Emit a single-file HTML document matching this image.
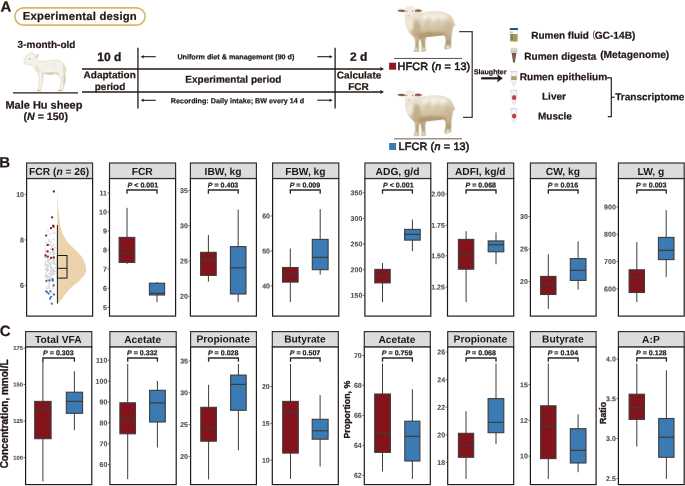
<!DOCTYPE html>
<html><head><meta charset="utf-8"><title>Figure</title>
<style>
html,body{margin:0;padding:0;background:#fff;}
svg{display:block;font-family:"Liberation Sans", Arial, sans-serif;will-change:transform;}
</style></head><body>
<svg width="685" height="486" viewBox="0 0 685 486">
<rect width="685" height="486" fill="#ffffff"/>

<defs>
<filter id="soft" x="-5%" y="-5%" width="110%" height="110%"><feGaussianBlur stdDeviation="2.2"/></filter>
<filter id="soft2" x="-20%" y="-20%" width="140%" height="140%"><feGaussianBlur stdDeviation="7"/></filter>
<filter id="softl" x="-5%" y="-5%" width="110%" height="110%"><feGaussianBlur stdDeviation="2.6"/></filter>
<filter id="softl2" x="-30%" y="-30%" width="160%" height="160%"><feGaussianBlur stdDeviation="8"/></filter>
<linearGradient id="wool" x1="0" y1="0" x2="0.25" y2="1">
 <stop offset="0" stop-color="#f4efe4"/><stop offset="0.38" stop-color="#e5dbc6"/><stop offset="0.7" stop-color="#cbb997"/><stop offset="1" stop-color="#ad9770"/>
</linearGradient>
<linearGradient id="leg" x1="0" y1="0" x2="0" y2="1">
 <stop offset="0" stop-color="#d2c2a2"/><stop offset="1" stop-color="#efe8da"/>
</linearGradient>
<linearGradient id="lambg" x1="0" y1="0" x2="0.2" y2="1">
 <stop offset="0" stop-color="#f7f4ee"/><stop offset="0.6" stop-color="#eee8dc"/><stop offset="1" stop-color="#ddd2bc"/>
</linearGradient>
<clipPath id="sheepclip"><path d="M118 96 C112 72 130 50 160 48 C192 48 206 66 208 92 C230 100 260 100 300 94 C350 84 420 88 465 108 C500 124 516 160 520 185 L528 200 L522 212 L512 214 C508 240 500 262 498 290 C496 330 494 360 494 388 L448 402 L440 388 C452 360 456 330 450 300 L436 282 C400 292 340 294 292 300 C282 340 284 380 290 414 L254 418 C260 380 256 340 246 312 L236 322 C230 360 234 390 236 408 L228 421 L190 419 C206 396 210 350 196 304 C160 280 130 230 124 180 C120 150 122 120 118 96 Z"/></clipPath>
<g id="sheepdef">
 <g filter="url(#soft)">
  <path fill="url(#wool)" d="M118 96 C112 72 130 50 160 48 C192 48 206 66 208 92 C230 100 260 100 300 94 C350 84 420 88 465 108 C500 124 516 160 520 185 L528 200 L522 212 L512 214 C508 240 500 262 498 290 C496 330 494 360 494 388 L448 402 L440 388 C452 360 456 330 450 300 L436 282 C400 292 340 294 292 300 C282 340 284 380 290 414 L254 418 C260 380 256 340 246 312 L236 322 C230 360 234 390 236 408 L228 421 L190 419 C206 396 210 350 196 304 C160 280 130 230 124 180 C120 150 122 120 118 96 Z"/>
  <g clip-path="url(#sheepclip)">
   <g filter="url(#soft2)">
    <ellipse cx="330" cy="282" rx="130" ry="26" fill="#ad956c" opacity="0.85"/>
    <ellipse cx="215" cy="235" rx="35" ry="75" fill="#bfa983" opacity="0.8"/>
    <ellipse cx="470" cy="250" rx="30" ry="70" fill="#c8b592" opacity="0.7"/>
    <ellipse cx="360" cy="135" rx="105" ry="28" fill="#f6f1e6" opacity="0.85"/><ellipse cx="300" cy="200" rx="20" ry="70" fill="#cdbd9c" opacity="0.55" transform="rotate(18 300 200)"/><ellipse cx="380" cy="200" rx="18" ry="70" fill="#d2c3a4" opacity="0.5" transform="rotate(14 380 200)"/>
    <ellipse cx="160" cy="200" rx="30" ry="50" fill="#f3ecdd" opacity="0.8"/>
    <ellipse cx="440" cy="330" rx="18" ry="55" fill="#9c845c" opacity="0.65"/>
    <ellipse cx="248" cy="335" rx="14" ry="45" fill="#a38b62" opacity="0.7"/>
    <ellipse cx="470" cy="385" rx="22" ry="18" fill="#f6f1e7" opacity="0.9"/>
    <ellipse cx="212" cy="405" rx="20" ry="16" fill="#f4eee2" opacity="0.9"/>
    <ellipse cx="272" cy="400" rx="18" ry="16" fill="#f4eee2" opacity="0.9"/>
   </g>
  </g>
  <!-- head -->
  <path d="M124 72 C128 54 145 47 162 48 C185 50 200 60 202 82 C200 104 188 124 172 136 C160 144 146 140 140 128 C130 112 122 92 124 70 Z" fill="#f3ede0"/>
  <path d="M140 120 C150 134 166 136 176 124 C170 138 150 142 140 120 Z" fill="#c8b294" opacity="0.8"/>
  <!-- ears -->
  <path d="M120 82 C100 74 76 75 58 86 C72 98 100 100 122 94 Z" fill="#7c3f2e"/>
  <path d="M204 80 C222 72 244 75 260 88 C244 100 220 98 202 92 Z" fill="#7c3f2e"/>
  <path d="M112 88 C98 82 82 82 70 88 C84 94 100 94 112 92 Z" fill="#c9876e" opacity="0.7"/>
  <path d="M210 86 C224 80 238 82 250 89 C238 94 222 94 210 91 Z" fill="#c9876e" opacity="0.7"/>
  <ellipse cx="134" cy="92" rx="5" ry="4" fill="#3a2a20"/>
  <ellipse cx="184" cy="90" rx="5" ry="4" fill="#3a2a20"/>
  <ellipse cx="152" cy="124" rx="7" ry="4" fill="#c49a90" opacity="0.9"/>
 </g>
</g>
</defs>

<text transform="rotate(0.04 0.4 11.7)" x="0.4" y="11.7" font-size="15" font-weight="bold" text-anchor="start" fill="#231815"  stroke="#231815" stroke-width="0.22">A</text>
<rect x="14.9" y="7.9" width="130.2" height="17.2" rx="8.6" ry="8.6" fill="#fffefb" stroke="#ddb370" stroke-width="1.6"/>
<text transform="rotate(0.04 79.9 19.9)" x="79.9" y="19.9" font-size="11.3" font-weight="bold" text-anchor="middle" fill="#231815" letter-spacing="0.19" stroke="#231815" stroke-width="0.22">Experimental design</text>
<text transform="rotate(0.04 46.5 47.9)" x="46.5" y="47.9" font-size="10" font-weight="bold" text-anchor="middle" fill="#231815"  stroke="#231815" stroke-width="0.22">3-month-old</text>
<g transform="translate(18,48) scale(0.09877)"><clipPath id="lambclip"><path d="M60 140 C60 120 72 96 92 72 C104 60 120 52 132 50 C134 44 137 40 141 38 C148 42 154 52 158 68 C172 66 196 62 212 64 C208 84 198 98 184 108 C188 118 200 128 216 134 C250 138 290 132 330 126 C370 120 410 122 436 138 C462 156 478 184 485 212 C488 230 486 242 480 250 C476 258 472 262 472 268 C484 296 484 320 478 342 C470 368 460 392 456 416 L452 433 L408 433 C408 424 416 416 424 398 C436 372 442 346 436 316 C430 300 414 284 396 266 L380 258 C350 268 310 270 282 262 L256 250 C254 290 250 330 244 362 C240 390 236 412 232 433 L194 433 C194 424 202 414 208 400 C214 370 216 330 214 292 L206 262 C188 240 170 212 158 192 C150 178 138 172 120 170 C100 170 80 168 70 160 C62 154 60 148 60 140 Z"/></clipPath><g filter="url(#softl)"><path d="M60 140 C60 120 72 96 92 72 C104 60 120 52 132 50 C134 44 137 40 141 38 C148 42 154 52 158 68 C172 66 196 62 212 64 C208 84 198 98 184 108 C188 118 200 128 216 134 C250 138 290 132 330 126 C370 120 410 122 436 138 C462 156 478 184 485 212 C488 230 486 242 480 250 C476 258 472 262 472 268 C484 296 484 320 478 342 C470 368 460 392 456 416 L452 433 L408 433 C408 424 416 416 424 398 C436 372 442 346 436 316 C430 300 414 284 396 266 L380 258 C350 268 310 270 282 262 L256 250 C254 290 250 330 244 362 C240 390 236 412 232 433 L194 433 C194 424 202 414 208 400 C214 370 216 330 214 292 L206 262 C188 240 170 212 158 192 C150 178 138 172 120 170 C100 170 80 168 70 160 C62 154 60 148 60 140 Z" fill="#f5f2eb" stroke="#d3c8ae" stroke-width="5"/><g clip-path="url(#lambclip)"><g filter="url(#softl2)"><ellipse cx="330" cy="262" rx="90" ry="16" fill="#cdbf9f" opacity="0.85"/><ellipse cx="252" cy="330" rx="9" ry="80" fill="#d6cab0" opacity="0.7"/><ellipse cx="470" cy="330" rx="12" ry="90" fill="#cfc2a4" opacity="0.8"/><ellipse cx="200" cy="210" rx="20" ry="42" fill="#e0d7c3" opacity="0.55" transform="rotate(-30 200 210)"/><ellipse cx="470" cy="210" rx="18" ry="50" fill="#ddd3bd" opacity="0.8"/><ellipse cx="360" cy="185" rx="30" ry="45" fill="#e6decd" opacity="0.2" transform="rotate(20 360 185)"/><ellipse cx="290" cy="190" rx="20" ry="40" fill="#e9e2d3" opacity="0.2" transform="rotate(15 290 190)"/></g></g></g><g filter="url(#softl)"><path d="M170 100 C180 86 194 74 208 68 C204 82 194 94 180 104 Z" fill="#e9b7bb"/><path d="M108 112 C114 108 124 108 130 114 C124 118 114 118 108 112 Z" fill="#7a7656"/><path d="M194 424 H228 V433 H194 Z M408 424 H446 V433 H408 Z" fill="#b9a67c"/></g></g>
<line x1="13" y1="92.8" x2="78" y2="92.8" stroke="#231815" stroke-width="1.3"/>
<text transform="rotate(0.04 43.9 108.7)" x="43.9" y="108.7" font-size="11" font-weight="bold" text-anchor="middle" fill="#231815"  stroke="#231815" stroke-width="0.22">Male Hu sheep</text>
<text transform="rotate(0.04 45.8 120.1)" x="45.8" y="120.1" font-size="10.6" font-weight="bold" text-anchor="middle" fill="#231815"  stroke="#231815" stroke-width="0.22">(<tspan font-style="italic">N</tspan> = 150)</text>
<text transform="rotate(0.04 109.3 61.1)" x="109.3" y="61.1" font-size="12" font-weight="bold" text-anchor="middle" fill="#231815" stroke="#231815" stroke-width="0.3">10 d</text>
<text transform="rotate(0.04 109.7 78.3)" x="109.7" y="78.3" font-size="10" font-weight="bold" text-anchor="middle" fill="#231815"  stroke="#231815" stroke-width="0.22">Adaptation</text>
<text transform="rotate(0.04 110 90)" x="110" y="90" font-size="10" font-weight="bold" text-anchor="middle" fill="#231815"  stroke="#231815" stroke-width="0.22">period</text>
<line x1="82" y1="68.95" x2="381" y2="68.95" stroke="#231815" stroke-width="1.35"/>
<path d="M384 68.95 L380 66.85000000000001 L380.9 68.95 L380 71.05 Z" fill="#231815"/>
<line x1="82" y1="91.95" x2="381" y2="91.95" stroke="#231815" stroke-width="1.35"/>
<path d="M384 91.95 L380 89.85000000000001 L380.9 91.95 L380 94.05 Z" fill="#231815"/>
<line x1="137.95" y1="47.7" x2="137.95" y2="108.5" stroke="#231815" stroke-width="1.3"/>
<line x1="335.1" y1="47.7" x2="335.1" y2="108.5" stroke="#231815" stroke-width="1.3"/>
<line x1="155.8" y1="56.7" x2="142.2" y2="56.7" stroke="#231815" stroke-width="1.1"/>
<path d="M140.7 56.7 L144.1 54.900000000000006 L143.29999999999998 56.7 L144.1 58.5 Z" fill="#231815"/>
<line x1="155.8" y1="100.3" x2="142.2" y2="100.3" stroke="#231815" stroke-width="1.1"/>
<path d="M140.7 100.3 L144.1 98.5 L143.29999999999998 100.3 L144.1 102.1 Z" fill="#231815"/>
<line x1="317.4" y1="56.7" x2="331.1" y2="56.7" stroke="#231815" stroke-width="1.1"/>
<path d="M332.6 56.7 L329.20000000000005 54.900000000000006 L330.0 56.7 L329.20000000000005 58.5 Z" fill="#231815"/>
<line x1="317.4" y1="100.2" x2="331.1" y2="100.2" stroke="#231815" stroke-width="1.1"/>
<path d="M332.6 100.2 L329.20000000000005 98.4 L330.0 100.2 L329.20000000000005 102.0 Z" fill="#231815"/>
<text transform="rotate(0.04 235.9 59.3)" x="235.9" y="59.3" font-size="7.2" font-weight="bold" text-anchor="middle" fill="#231815"  stroke="#231815" stroke-width="0.22">Uniform diet &amp; management (90 d)</text>
<text transform="rotate(0.04 233.4 82.7)" x="233.4" y="82.7" font-size="10" font-weight="bold" text-anchor="middle" fill="#231815"  stroke="#231815" stroke-width="0.22">Experimental period</text>
<text transform="rotate(0.04 237.5 103.3)" x="237.5" y="103.3" font-size="7.2" font-weight="bold" text-anchor="middle" fill="#231815"  stroke="#231815" stroke-width="0.22">Recording: Daily intake; BW every 14 d</text>
<text transform="rotate(0.04 358.6 60.8)" x="358.6" y="60.8" font-size="12" font-weight="bold" text-anchor="middle" fill="#231815" stroke="#231815" stroke-width="0.3">2 d</text>
<text transform="rotate(0.04 359.1 78.4)" x="359.1" y="78.4" font-size="10" font-weight="bold" text-anchor="middle" fill="#231815"  stroke="#231815" stroke-width="0.22">Calculate</text>
<text transform="rotate(0.04 358.5 90.1)" x="358.5" y="90.1" font-size="10" font-weight="bold" text-anchor="middle" fill="#231815"  stroke="#231815" stroke-width="0.22">FCR</text>
<use href="#sheepdef" transform="translate(390,0) scale(0.12346)"/>
<use href="#sheepdef" transform="translate(390,84.2) scale(0.12346)"/>
<line x1="394.2" y1="58.45" x2="462.2" y2="58.45" stroke="#5a4f4f" stroke-width="1"/>
<line x1="394.2" y1="138.8" x2="462.1" y2="138.8" stroke="#9a9292" stroke-width="1.4"/>
<rect x="389.1" y="62.7" width="7" height="7" fill="#8b1a22"/>
<rect x="389.1" y="143" width="7" height="7" fill="#3b7ab5"/>
<text transform="rotate(0.04 397.5 70)" x="397.5" y="70" font-size="10.8" font-weight="normal" text-anchor="start" fill="#231815" stroke="#231815" stroke-width="0.62" letter-spacing="0.18">HFCR (<tspan font-style="italic">n</tspan> = 13)</text>
<text transform="rotate(0.04 398.5 149.9)" x="398.5" y="149.9" font-size="10.8" font-weight="normal" text-anchor="start" fill="#231815" stroke="#231815" stroke-width="0.62" letter-spacing="0.18">LFCR (<tspan font-style="italic">n</tspan> = 13)</text>
<path d="M459.2 31.7 H472.2 V117.3 H463" fill="none" stroke="#463c3a" stroke-width="1.3"/>
<text transform="rotate(0.04 473.7 74.2)" x="473.7" y="74.2" font-size="7.15" font-weight="bold" text-anchor="start" fill="#231815"  stroke="#231815" stroke-width="0.22">Slaughter</text>
<line x1="481.2" y1="78.3" x2="499" y2="78.3" stroke="#231815" stroke-width="2.2"/>
<path d="M502.4 78.3 L497.4 74.8 L498.6 78.3 L497.4 81.8 Z" fill="#231815" stroke="#231815" stroke-width="0.6"/>
<rect x="510.3" y="29.6" width="7.2" height="12" rx="0.8" fill="#ffffff" stroke="#c8c8b8" stroke-width="0.4"/><path d="M510.3 34 H517.5 V40.8 Q517.5 41.6 516.7 41.6 H511.1 Q510.3 41.6 510.3 40.8 Z" fill="#a39a5a"/><rect x="509.8" y="28.1" width="8.2" height="2" rx="0.4" fill="#2c4f92"/><line x1="510.6" y1="32.2" x2="512.9" y2="32.2" stroke="#2a2618" stroke-width="0.5"/><line x1="510.6" y1="34.8" x2="512.9" y2="34.8" stroke="#2a2618" stroke-width="0.5"/><line x1="510.6" y1="37" x2="512.9" y2="37" stroke="#2a2618" stroke-width="0.5"/><line x1="510.6" y1="39" x2="512.9" y2="39" stroke="#2a2618" stroke-width="0.5"/><rect x="511" y="47.9" width="6" height="5" rx="0.8" fill="#d9d9d9" stroke="#bdbdbd" stroke-width="0.4"/><rect x="510.6" y="50.8" width="6.8" height="1.4" rx="0.5" fill="#c4c4c4"/><path d="M511.6 53 H516.4 L514.9 62.3 Q514 63.4 513.1 62.3 Z" fill="#7a5447"/><path d="M513.6 54 H514.6 L514.2 62 Z" fill="#a07868" opacity="0.7"/><path d="M511 71.8 H516.8 V78.5 L514.7 85.3 Q513.9 86.2 513.1 85.3 L511 78.5 Z" fill="#f2f5f8" stroke="#c4ccd6" stroke-width="0.5"/><rect x="510.2" y="71" width="7.2" height="1.1" rx="0.4" fill="#cfd6de"/><rect x="511.2" y="76.2" width="5.4" height="3.8" fill="#b39b6c"/><path d="M511 90.5 H516.8 V97.2 L514.7 104.0 Q513.9 104.9 513.1 104.0 L511 97.2 Z" fill="#f2f5f8" stroke="#c4ccd6" stroke-width="0.5"/><rect x="510.2" y="89.7" width="7.2" height="1.1" rx="0.4" fill="#cfd6de"/><ellipse cx="514.1" cy="97.60000000000001" rx="2.1" ry="2.5" fill="#c9363c"/><path d="M511 108.8 H516.8 V115.5 L514.7 122.3 Q513.9 123.2 513.1 122.3 L511 115.5 Z" fill="#f2f5f8" stroke="#c4ccd6" stroke-width="0.5"/><rect x="510.2" y="108" width="7.2" height="1.1" rx="0.4" fill="#cfd6de"/><ellipse cx="514.1" cy="115.9" rx="2.1" ry="2.5" fill="#c9363c"/>
<text transform="rotate(0.04 531.2 38.7)" x="531.2" y="38.7" font-size="10" font-weight="bold" text-anchor="start" fill="#231815"  stroke="#231815" stroke-width="0.22">Rumen fluid<tspan font-weight="normal" stroke="none" fill="#4a4040" font-family="'Liberation Sans', 'Noto Sans CJK SC', sans-serif" dx="-2.9">（</tspan><tspan dx="-1.4" font-size="10.2">GC-14B)</tspan></text>
<text transform="rotate(0.04 524.3 59.8)" x="524.3" y="59.8" font-size="10.05" font-weight="bold" text-anchor="start" fill="#231815"  stroke="#231815" stroke-width="0.22">Rumen digesta</text>
<text transform="rotate(0.04 600.2 58.0)" x="600.2" y="58.0" font-size="10.2" font-weight="bold" text-anchor="start" fill="#231815"  stroke="#231815" stroke-width="0.22">(Metagenome)</text>
<text transform="rotate(0.04 519.7 80.2)" x="519.7" y="80.2" font-size="10.1" font-weight="bold" text-anchor="start" fill="#231815"  stroke="#231815" stroke-width="0.22">Rumen epithelium</text>
<text transform="rotate(0.04 542 99.7)" x="542" y="99.7" font-size="10" font-weight="bold" text-anchor="start" fill="#231815"  stroke="#231815" stroke-width="0.22">Liver</text>
<text transform="rotate(0.04 538 119.5)" x="538" y="119.5" font-size="10" font-weight="bold" text-anchor="start" fill="#231815"  stroke="#231815" stroke-width="0.22">Muscle</text>
<path d="M606.8 77.9 H611.3 V116.6 H607.8" fill="none" stroke="#231815" stroke-width="1.15"/>
<line x1="611.3" y1="97.2" x2="614.6" y2="97.2" stroke="#231815" stroke-width="1.15"/>
<text transform="rotate(0.04 615.2 100.3)" x="615.2" y="100.3" font-size="10.05" font-weight="bold" text-anchor="start" fill="#231815"  stroke="#231815" stroke-width="0.22">Transcriptome</text>
<text transform="rotate(0.04 -0.7 167.4)" x="-0.7" y="167.4" font-size="15" font-weight="bold" text-anchor="start" fill="#231815"  stroke="#231815" stroke-width="0.22">B</text>
<rect x="26.6" y="178.5" width="66.0" height="137.6" fill="#ffffff" stroke="#2b1a16" stroke-width="1.2"/>
<rect x="26.6" y="163.0" width="66.0" height="15.5" fill="#dcdcdc" stroke="#2b2b2b" stroke-width="1.15"/>
<text transform="rotate(0.04 59.099999999999994 174.95)" x="59.099999999999994" y="174.95" font-size="10.25" font-weight="bold" text-anchor="middle" fill="#1a1a1a" >FCR (<tspan font-style="italic">n</tspan> = 26)</text>
<line x1="24.6" y1="194.4" x2="26.6" y2="194.4" stroke="#333" stroke-width="0.7"/>
<text transform="rotate(0.04 24.0 196.9)" x="24.0" y="196.9" font-size="7" font-weight="bold" text-anchor="end" fill="#4f4f4f" stroke="#4f4f4f" stroke-width="0.12">10</text>
<line x1="24.6" y1="239.9" x2="26.6" y2="239.9" stroke="#333" stroke-width="0.7"/>
<text transform="rotate(0.04 24.0 242.4)" x="24.0" y="242.4" font-size="7" font-weight="bold" text-anchor="end" fill="#4f4f4f" stroke="#4f4f4f" stroke-width="0.12">8</text>
<line x1="24.6" y1="285.3" x2="26.6" y2="285.3" stroke="#333" stroke-width="0.7"/>
<text transform="rotate(0.04 24.0 287.8)" x="24.0" y="287.8" font-size="7" font-weight="bold" text-anchor="end" fill="#4f4f4f" stroke="#4f4f4f" stroke-width="0.12">6</text>
<path d="M57.4 190.5 L57.5 190.5 L57.9 200 L58.3 208 L58.8 214 L59.6 221 L60.9 228.2 L62.8 234 L65.9 239.7 L69.3 244 L72.6 247.2 L76.2 250.5 L79.5 254 L82 257.2 L83.8 260.5 L85.2 264 L86 267.5 L86.2 270 L85.6 272.8 L84.2 275.5 L82 278 L79 281.2 L75.8 283.8 L73.1 285.8 L70 288.8 L67.3 291.8 L65.2 294.2 L63 297.2 L60.9 300 L59 302.3 L57.5 303.6 L57.4 303.6 Z" fill="#ebd3ac"/>
<circle cx="51.7" cy="262.4" r="0.85" fill="#d4d4d4"/>
<circle cx="45.9" cy="273.2" r="0.85" fill="#d4d4d4"/>
<circle cx="45.8" cy="253.0" r="0.85" fill="#d4d4d4"/>
<circle cx="50.3" cy="263.0" r="0.85" fill="#d4d4d4"/>
<circle cx="45.9" cy="280.5" r="0.85" fill="#d4d4d4"/>
<circle cx="46.1" cy="269.5" r="0.85" fill="#d4d4d4"/>
<circle cx="46.4" cy="242.7" r="0.85" fill="#d4d4d4"/>
<circle cx="47.4" cy="278.0" r="0.85" fill="#d4d4d4"/>
<circle cx="51.0" cy="242.3" r="0.85" fill="#d4d4d4"/>
<circle cx="49.2" cy="241.6" r="0.85" fill="#d4d4d4"/>
<circle cx="53.8" cy="270.3" r="0.85" fill="#d4d4d4"/>
<circle cx="48.1" cy="265.4" r="0.85" fill="#d4d4d4"/>
<circle cx="48.3" cy="270.3" r="0.85" fill="#d4d4d4"/>
<circle cx="53.4" cy="271.5" r="0.85" fill="#d4d4d4"/>
<circle cx="51.6" cy="273.8" r="0.85" fill="#d4d4d4"/>
<circle cx="48.9" cy="282.8" r="0.85" fill="#d4d4d4"/>
<circle cx="45.8" cy="261.2" r="0.85" fill="#d4d4d4"/>
<circle cx="47.3" cy="264.5" r="0.85" fill="#d4d4d4"/>
<circle cx="48.3" cy="259.7" r="0.85" fill="#d4d4d4"/>
<circle cx="51.1" cy="252.6" r="0.85" fill="#d4d4d4"/>
<circle cx="53.1" cy="254.7" r="0.85" fill="#d4d4d4"/>
<circle cx="52.2" cy="269.4" r="0.85" fill="#d4d4d4"/>
<circle cx="50.5" cy="266.7" r="0.85" fill="#d4d4d4"/>
<circle cx="54.0" cy="284.3" r="0.85" fill="#d4d4d4"/>
<circle cx="55.0" cy="264.5" r="0.85" fill="#d4d4d4"/>
<circle cx="46.4" cy="254.6" r="0.85" fill="#d4d4d4"/>
<circle cx="46.7" cy="245.5" r="0.85" fill="#d4d4d4"/>
<circle cx="50.1" cy="277.6" r="0.85" fill="#d4d4d4"/>
<circle cx="52.8" cy="286.2" r="0.85" fill="#d4d4d4"/>
<circle cx="50.9" cy="271.1" r="0.85" fill="#d4d4d4"/>
<circle cx="52.2" cy="274.6" r="0.85" fill="#d4d4d4"/>
<circle cx="51.1" cy="257.4" r="0.85" fill="#d4d4d4"/>
<circle cx="53.6" cy="252.5" r="0.85" fill="#d4d4d4"/>
<circle cx="54.6" cy="258.6" r="0.85" fill="#d4d4d4"/>
<circle cx="45.8" cy="245.6" r="0.85" fill="#d4d4d4"/>
<circle cx="52.2" cy="269.4" r="0.85" fill="#d4d4d4"/>
<circle cx="53.4" cy="239.4" r="0.85" fill="#d4d4d4"/>
<circle cx="48.0" cy="230.7" r="0.85" fill="#d4d4d4"/>
<circle cx="45.4" cy="250.3" r="0.85" fill="#d4d4d4"/>
<circle cx="49.8" cy="279.7" r="0.85" fill="#d4d4d4"/>
<circle cx="45.8" cy="269.4" r="0.85" fill="#d4d4d4"/>
<circle cx="52.9" cy="272.1" r="0.85" fill="#d4d4d4"/>
<circle cx="49.1" cy="273.3" r="0.85" fill="#d4d4d4"/>
<circle cx="53.9" cy="273.7" r="0.85" fill="#d4d4d4"/>
<circle cx="50.7" cy="279.4" r="0.85" fill="#d4d4d4"/>
<circle cx="54.0" cy="273.4" r="0.85" fill="#d4d4d4"/>
<circle cx="48.0" cy="277.8" r="0.85" fill="#d4d4d4"/>
<circle cx="49.4" cy="240.6" r="0.85" fill="#d4d4d4"/>
<circle cx="54.8" cy="247.6" r="0.85" fill="#d4d4d4"/>
<circle cx="46.7" cy="288.5" r="0.85" fill="#d4d4d4"/>
<circle cx="47.5" cy="270.5" r="0.85" fill="#d4d4d4"/>
<circle cx="50.0" cy="275.1" r="0.85" fill="#d4d4d4"/>
<circle cx="45.2" cy="256.7" r="0.85" fill="#d4d4d4"/>
<circle cx="49.4" cy="260.2" r="0.85" fill="#d4d4d4"/>
<circle cx="54.7" cy="253.7" r="0.85" fill="#d4d4d4"/>
<circle cx="52.1" cy="279.3" r="0.85" fill="#d4d4d4"/>
<circle cx="52.0" cy="246.7" r="0.85" fill="#d4d4d4"/>
<circle cx="45.7" cy="264.1" r="0.85" fill="#d4d4d4"/>
<circle cx="53.9" cy="285.7" r="0.85" fill="#d4d4d4"/>
<circle cx="53.2" cy="251.6" r="0.85" fill="#d4d4d4"/>
<circle cx="46.2" cy="255.0" r="0.85" fill="#d4d4d4"/>
<circle cx="51.5" cy="274.8" r="0.85" fill="#d4d4d4"/>
<circle cx="47.3" cy="270.8" r="0.85" fill="#d4d4d4"/>
<circle cx="46.8" cy="268.0" r="0.85" fill="#d4d4d4"/>
<circle cx="45.2" cy="263.5" r="0.85" fill="#d4d4d4"/>
<circle cx="46.7" cy="269.9" r="0.85" fill="#d4d4d4"/>
<circle cx="45.5" cy="276.7" r="0.85" fill="#d4d4d4"/>
<circle cx="53.9" cy="273.9" r="0.85" fill="#d4d4d4"/>
<circle cx="47.7" cy="260.0" r="0.85" fill="#d4d4d4"/>
<circle cx="48.7" cy="260.8" r="0.85" fill="#d4d4d4"/>
<circle cx="53.7" cy="261.3" r="0.85" fill="#d4d4d4"/>
<circle cx="55.1" cy="271.4" r="0.85" fill="#d4d4d4"/>
<circle cx="46.1" cy="250.3" r="0.85" fill="#d4d4d4"/>
<circle cx="46.2" cy="269.4" r="0.85" fill="#d4d4d4"/>
<circle cx="53.5" cy="260.0" r="0.85" fill="#d4d4d4"/>
<circle cx="46.8" cy="275.2" r="0.85" fill="#d4d4d4"/>
<circle cx="50.5" cy="271.0" r="0.85" fill="#d4d4d4"/>
<circle cx="45.5" cy="276.6" r="0.85" fill="#d4d4d4"/>
<circle cx="50.5" cy="280.0" r="0.85" fill="#d4d4d4"/>
<circle cx="52.2" cy="293.7" r="0.85" fill="#d4d4d4"/>
<circle cx="47.8" cy="262.2" r="0.85" fill="#d4d4d4"/>
<circle cx="52.9" cy="260.3" r="0.85" fill="#d4d4d4"/>
<circle cx="50.5" cy="272.3" r="0.85" fill="#d4d4d4"/>
<circle cx="47.4" cy="268.3" r="0.85" fill="#d4d4d4"/>
<circle cx="53.3" cy="253.7" r="0.85" fill="#d4d4d4"/>
<circle cx="53.3" cy="293.3" r="0.85" fill="#d4d4d4"/>
<circle cx="53.4" cy="263.4" r="0.85" fill="#d4d4d4"/>
<circle cx="50.4" cy="265.4" r="0.85" fill="#d4d4d4"/>
<circle cx="48.8" cy="256.0" r="0.85" fill="#d4d4d4"/>
<circle cx="48.0" cy="269.3" r="0.85" fill="#d4d4d4"/>
<circle cx="47.8" cy="266.6" r="0.85" fill="#d4d4d4"/>
<circle cx="49.7" cy="253.6" r="0.85" fill="#d4d4d4"/>
<circle cx="54.6" cy="233.2" r="0.85" fill="#d4d4d4"/>
<circle cx="48.8" cy="263.4" r="0.85" fill="#d4d4d4"/>
<circle cx="47.2" cy="267.9" r="0.85" fill="#d4d4d4"/>
<circle cx="47.2" cy="275.9" r="0.85" fill="#d4d4d4"/>
<circle cx="53.6" cy="244.6" r="0.85" fill="#d4d4d4"/>
<circle cx="50.0" cy="244.9" r="0.85" fill="#d4d4d4"/>
<circle cx="46.0" cy="251.6" r="0.85" fill="#d4d4d4"/>
<circle cx="51.8" cy="245.4" r="0.85" fill="#d4d4d4"/>
<circle cx="52.7" cy="286.6" r="0.85" fill="#d4d4d4"/>
<circle cx="50.0" cy="252.9" r="0.85" fill="#d4d4d4"/>
<circle cx="48.5" cy="276.7" r="0.85" fill="#d4d4d4"/>
<circle cx="53.2" cy="288.3" r="0.85" fill="#d4d4d4"/>
<circle cx="49.2" cy="279.8" r="0.85" fill="#d4d4d4"/>
<circle cx="54.7" cy="263.5" r="0.85" fill="#d4d4d4"/>
<circle cx="46.5" cy="264.7" r="0.85" fill="#d4d4d4"/>
<circle cx="46.7" cy="257.6" r="0.85" fill="#d4d4d4"/>
<circle cx="46.7" cy="287.0" r="0.85" fill="#d4d4d4"/>
<circle cx="53.5" cy="251.7" r="0.85" fill="#d4d4d4"/>
<circle cx="48.7" cy="286.3" r="0.85" fill="#d4d4d4"/>
<circle cx="50.7" cy="263.5" r="0.85" fill="#d4d4d4"/>
<circle cx="54.9" cy="267.6" r="0.85" fill="#d4d4d4"/>
<circle cx="51.7" cy="267.7" r="0.85" fill="#d4d4d4"/>
<circle cx="49.5" cy="233.8" r="0.85" fill="#d4d4d4"/>
<circle cx="53.9" cy="260.6" r="0.85" fill="#d4d4d4"/>
<circle cx="47.7" cy="270.4" r="0.85" fill="#d4d4d4"/>
<circle cx="48.1" cy="257.4" r="0.85" fill="#d4d4d4"/>
<circle cx="47.8" cy="267.1" r="0.85" fill="#d4d4d4"/>
<circle cx="49.4" cy="284.6" r="0.85" fill="#d4d4d4"/>
<circle cx="48.7" cy="286.9" r="0.85" fill="#d4d4d4"/>
<circle cx="49.8" cy="288.5" r="0.85" fill="#d4d4d4"/>
<circle cx="49.4" cy="239.7" r="0.85" fill="#d4d4d4"/>
<circle cx="54.4" cy="250.8" r="0.85" fill="#d4d4d4"/>
<circle cx="50.4" cy="248.8" r="0.85" fill="#d4d4d4"/>
<circle cx="45.4" cy="265.8" r="0.85" fill="#d4d4d4"/>
<circle cx="45.2" cy="257.7" r="0.85" fill="#d4d4d4"/>
<circle cx="53.2" cy="269.3" r="0.85" fill="#d4d4d4"/>
<circle cx="52.5" cy="273.4" r="0.85" fill="#d4d4d4"/>
<circle cx="50.8" cy="280.0" r="0.85" fill="#d4d4d4"/>
<circle cx="50.8" cy="258.2" r="0.85" fill="#d4d4d4"/>
<circle cx="53.0" cy="281.0" r="0.85" fill="#d4d4d4"/>
<circle cx="47.7" cy="280.1" r="0.85" fill="#d4d4d4"/>
<circle cx="48.0" cy="277.1" r="0.85" fill="#d4d4d4"/>
<circle cx="50.8" cy="268.3" r="0.85" fill="#d4d4d4"/>
<circle cx="52.8" cy="249.5" r="0.85" fill="#d4d4d4"/>
<circle cx="51.3" cy="278.9" r="0.85" fill="#d4d4d4"/>
<circle cx="50.3" cy="258.1" r="0.85" fill="#d4d4d4"/>
<circle cx="49.7" cy="244.6" r="0.85" fill="#d4d4d4"/>
<circle cx="50.5" cy="264.4" r="0.85" fill="#d4d4d4"/>
<circle cx="52.2" cy="233.0" r="0.85" fill="#d4d4d4"/>
<circle cx="54.0" cy="270.6" r="0.85" fill="#d4d4d4"/>
<circle cx="50.8" cy="276.1" r="0.85" fill="#d4d4d4"/>
<circle cx="54.6" cy="262.1" r="0.85" fill="#d4d4d4"/>
<circle cx="46.4" cy="270.1" r="0.85" fill="#d4d4d4"/>
<circle cx="49.6" cy="259.6" r="0.85" fill="#d4d4d4"/>
<circle cx="45.9" cy="275.3" r="0.85" fill="#d4d4d4"/>
<circle cx="51.9" cy="270.6" r="0.85" fill="#d4d4d4"/>
<circle cx="53.8" cy="191.5" r="1.15" fill="#8b1a1a"/>
<circle cx="52.1" cy="217.4" r="1.15" fill="#8b1a1a"/>
<circle cx="53.3" cy="225.7" r="1.15" fill="#8b1a1a"/>
<circle cx="51" cy="228.2" r="1.15" fill="#8b1a1a"/>
<circle cx="46.2" cy="235.6" r="1.15" fill="#8b1a1a"/>
<circle cx="47.8" cy="244.9" r="1.15" fill="#8b1a1a"/>
<circle cx="52.7" cy="249.3" r="1.15" fill="#8b1a1a"/>
<circle cx="47.7" cy="251.5" r="1.15" fill="#8b1a1a"/>
<circle cx="45.5" cy="255.5" r="1.15" fill="#8b1a1a"/>
<circle cx="47.7" cy="256.6" r="1.15" fill="#8b1a1a"/>
<circle cx="51.1" cy="258" r="1.15" fill="#8b1a1a"/>
<circle cx="53.7" cy="257.5" r="1.15" fill="#8b1a1a"/>
<circle cx="53.5" cy="226.8" r="1.15" fill="#8b1a1a"/>
<circle cx="46.5" cy="281" r="1.15" fill="#3b78b3"/>
<circle cx="49.4" cy="280.5" r="1.15" fill="#3b78b3"/>
<circle cx="52.7" cy="279.1" r="1.15" fill="#3b78b3"/>
<circle cx="52.8" cy="280.7" r="1.15" fill="#3b78b3"/>
<circle cx="53.7" cy="285.3" r="1.15" fill="#3b78b3"/>
<circle cx="46.2" cy="291.3" r="1.15" fill="#3b78b3"/>
<circle cx="50.5" cy="291.3" r="1.15" fill="#3b78b3"/>
<circle cx="48.7" cy="293.6" r="1.15" fill="#3b78b3"/>
<circle cx="54" cy="294.6" r="1.15" fill="#3b78b3"/>
<circle cx="51.1" cy="296.8" r="1.15" fill="#3b78b3"/>
<circle cx="50.1" cy="298.7" r="1.15" fill="#3b78b3"/>
<circle cx="51.8" cy="303.7" r="1.15" fill="#3b78b3"/>
<circle cx="47.3" cy="292.3" r="1.15" fill="#3b78b3"/>
<line x1="57.4" y1="225" x2="57.4" y2="303.6" stroke="#1a1a1a" stroke-width="1"/>
<rect x="57.4" y="255.5" width="9.6" height="22.6" fill="none" stroke="#1a1a1a" stroke-width="1"/>
<line x1="57.4" y1="268.3" x2="67" y2="268.3" stroke="#1a1a1a" stroke-width="1"/>
<rect x="109.5" y="178.5" width="66.1" height="137.6" fill="#ffffff" stroke="#1f1a19" stroke-width="1.2"/>
<rect x="109.5" y="163.0" width="66.1" height="15.5" fill="#dcdcdc" stroke="#2b2b2b" stroke-width="1.15"/>
<text transform="rotate(0.04 142.20000000000002 174.95)" x="142.20000000000002" y="174.95" font-size="10.25" font-weight="bold" text-anchor="middle" fill="#1a1a1a" >FCR</text>
<line x1="107.5" y1="193" x2="109.5" y2="193" stroke="#333" stroke-width="0.7"/>
<text transform="rotate(0.04 106.9 195.52)" x="106.9" y="195.52" font-size="7" font-weight="bold" text-anchor="end" fill="#4f4f4f" stroke="#4f4f4f" stroke-width="0.12">11</text>
<line x1="107.5" y1="212" x2="109.5" y2="212" stroke="#333" stroke-width="0.7"/>
<text transform="rotate(0.04 106.9 214.52)" x="106.9" y="214.52" font-size="7" font-weight="bold" text-anchor="end" fill="#4f4f4f" stroke="#4f4f4f" stroke-width="0.12">10</text>
<line x1="107.5" y1="231" x2="109.5" y2="231" stroke="#333" stroke-width="0.7"/>
<text transform="rotate(0.04 106.9 233.52)" x="106.9" y="233.52" font-size="7" font-weight="bold" text-anchor="end" fill="#4f4f4f" stroke="#4f4f4f" stroke-width="0.12">9</text>
<line x1="107.5" y1="250" x2="109.5" y2="250" stroke="#333" stroke-width="0.7"/>
<text transform="rotate(0.04 106.9 252.52)" x="106.9" y="252.52" font-size="7" font-weight="bold" text-anchor="end" fill="#4f4f4f" stroke="#4f4f4f" stroke-width="0.12">8</text>
<line x1="107.5" y1="269" x2="109.5" y2="269" stroke="#333" stroke-width="0.7"/>
<text transform="rotate(0.04 106.9 271.52)" x="106.9" y="271.52" font-size="7" font-weight="bold" text-anchor="end" fill="#4f4f4f" stroke="#4f4f4f" stroke-width="0.12">7</text>
<line x1="107.5" y1="288.2" x2="109.5" y2="288.2" stroke="#333" stroke-width="0.7"/>
<text transform="rotate(0.04 106.9 290.71999999999997)" x="106.9" y="290.71999999999997" font-size="7" font-weight="bold" text-anchor="end" fill="#4f4f4f" stroke="#4f4f4f" stroke-width="0.12">6</text>
<line x1="107.5" y1="307.4" x2="109.5" y2="307.4" stroke="#333" stroke-width="0.7"/>
<text transform="rotate(0.04 106.9 309.91999999999996)" x="106.9" y="309.91999999999996" font-size="7" font-weight="bold" text-anchor="end" fill="#4f4f4f" stroke="#4f4f4f" stroke-width="0.12">5</text>
<line x1="127.0" y1="207.8" x2="127.0" y2="263.9" stroke="#3d3d3d" stroke-width="1"/>
<rect x="119.1" y="237.4" width="15.7" height="25.0" fill="#84141c" stroke="#3d3d3d" stroke-width="1.1"/>
<line x1="119.1" y1="253.4" x2="134.8" y2="253.4" stroke="#3d3d3d" stroke-width="1.2"/>
<line x1="157.0" y1="282.1" x2="157.0" y2="302.3" stroke="#3d3d3d" stroke-width="1"/>
<rect x="149.4" y="283.2" width="15.2" height="11.8" fill="#3b7ab3" stroke="#3d3d3d" stroke-width="1.1"/>
<line x1="149.4" y1="293.3" x2="164.6" y2="293.3" stroke="#3d3d3d" stroke-width="1.2"/>
<path d="M127.0 193.8 V190.0 H157.0 V193.8" fill="none" stroke="#2a2a2a" stroke-width="1.35"/>
<text transform="rotate(0.04 142.875 187.6)" x="142.875" y="187.6" font-size="7.1" font-weight="bold" text-anchor="middle" fill="#1a1a1a" stroke="#1a1a1a" stroke-width="0.2"><tspan font-style="italic">P</tspan> &lt; 0.001</text>
<rect x="190.4" y="178.5" width="66.0" height="137.6" fill="#ffffff" stroke="#1f1a19" stroke-width="1.2"/>
<rect x="190.4" y="163.0" width="66.0" height="15.5" fill="#dcdcdc" stroke="#2b2b2b" stroke-width="1.15"/>
<text transform="rotate(0.04 223.04999999999998 174.95)" x="223.04999999999998" y="174.95" font-size="10.25" font-weight="bold" text-anchor="middle" fill="#1a1a1a" >IBW, kg</text>
<line x1="188.4" y1="190.5" x2="190.4" y2="190.5" stroke="#333" stroke-width="0.7"/>
<text transform="rotate(0.04 187.8 193.02)" x="187.8" y="193.02" font-size="7" font-weight="bold" text-anchor="end" fill="#4f4f4f" stroke="#4f4f4f" stroke-width="0.12">35</text>
<line x1="188.4" y1="225.7" x2="190.4" y2="225.7" stroke="#333" stroke-width="0.7"/>
<text transform="rotate(0.04 187.8 228.22)" x="187.8" y="228.22" font-size="7" font-weight="bold" text-anchor="end" fill="#4f4f4f" stroke="#4f4f4f" stroke-width="0.12">30</text>
<line x1="188.4" y1="261" x2="190.4" y2="261" stroke="#333" stroke-width="0.7"/>
<text transform="rotate(0.04 187.8 263.52)" x="187.8" y="263.52" font-size="7" font-weight="bold" text-anchor="end" fill="#4f4f4f" stroke="#4f4f4f" stroke-width="0.12">25</text>
<line x1="188.4" y1="296.3" x2="190.4" y2="296.3" stroke="#333" stroke-width="0.7"/>
<text transform="rotate(0.04 187.8 298.82)" x="187.8" y="298.82" font-size="7" font-weight="bold" text-anchor="end" fill="#4f4f4f" stroke="#4f4f4f" stroke-width="0.12">20</text>
<line x1="208.4" y1="234.9" x2="208.4" y2="281.6" stroke="#3d3d3d" stroke-width="1"/>
<rect x="200.6" y="252.3" width="15.6" height="23.1" fill="#84141c" stroke="#3d3d3d" stroke-width="1.1"/>
<line x1="200.6" y1="260.4" x2="216.2" y2="260.4" stroke="#3d3d3d" stroke-width="1.2"/>
<line x1="238.2" y1="209.6" x2="238.2" y2="302.2" stroke="#3d3d3d" stroke-width="1"/>
<rect x="230.4" y="246.6" width="15.6" height="47.4" fill="#3b7ab3" stroke="#3d3d3d" stroke-width="1.1"/>
<line x1="230.4" y1="267.8" x2="246" y2="267.8" stroke="#3d3d3d" stroke-width="1.2"/>
<path d="M208.4 193.8 V190.0 H238.2 V193.8" fill="none" stroke="#2a2a2a" stroke-width="1.35"/>
<text transform="rotate(0.04 222.99999999999997 187.6)" x="222.99999999999997" y="187.6" font-size="7.1" font-weight="bold" text-anchor="middle" fill="#1a1a1a" stroke="#1a1a1a" stroke-width="0.2"><tspan font-style="italic">P</tspan> = 0.403</text>
<rect x="272.6" y="178.5" width="66.2" height="137.6" fill="#ffffff" stroke="#1f1a19" stroke-width="1.2"/>
<rect x="272.6" y="163.0" width="66.2" height="15.5" fill="#dcdcdc" stroke="#2b2b2b" stroke-width="1.15"/>
<text transform="rotate(0.04 305.35 174.95)" x="305.35" y="174.95" font-size="10.25" font-weight="bold" text-anchor="middle" fill="#1a1a1a" >FBW, kg</text>
<line x1="270.6" y1="216" x2="272.6" y2="216" stroke="#333" stroke-width="0.7"/>
<text transform="rotate(0.04 270.0 218.52)" x="270.0" y="218.52" font-size="7" font-weight="bold" text-anchor="end" fill="#4f4f4f" stroke="#4f4f4f" stroke-width="0.12">60</text>
<line x1="270.6" y1="251" x2="272.6" y2="251" stroke="#333" stroke-width="0.7"/>
<text transform="rotate(0.04 270.0 253.52)" x="270.0" y="253.52" font-size="7" font-weight="bold" text-anchor="end" fill="#4f4f4f" stroke="#4f4f4f" stroke-width="0.12">50</text>
<line x1="270.6" y1="286" x2="272.6" y2="286" stroke="#333" stroke-width="0.7"/>
<text transform="rotate(0.04 270.0 288.52)" x="270.0" y="288.52" font-size="7" font-weight="bold" text-anchor="end" fill="#4f4f4f" stroke="#4f4f4f" stroke-width="0.12">40</text>
<line x1="290.3" y1="248.5" x2="290.3" y2="302" stroke="#3d3d3d" stroke-width="1"/>
<rect x="282.5" y="267.5" width="15.6" height="14.6" fill="#84141c" stroke="#3d3d3d" stroke-width="1.1"/>
<line x1="282.5" y1="273.8" x2="298.1" y2="273.8" stroke="#3d3d3d" stroke-width="1.2"/>
<line x1="320.2" y1="209.1" x2="320.2" y2="274.7" stroke="#3d3d3d" stroke-width="1"/>
<rect x="312.3" y="239.4" width="15.8" height="30.3" fill="#3b7ab3" stroke="#3d3d3d" stroke-width="1.1"/>
<line x1="312.3" y1="257.4" x2="328.1" y2="257.4" stroke="#3d3d3d" stroke-width="1.2"/>
<path d="M290.3 193.8 V190.0 H320.2 V193.8" fill="none" stroke="#2a2a2a" stroke-width="1.35"/>
<text transform="rotate(0.04 304.95 187.6)" x="304.95" y="187.6" font-size="7.1" font-weight="bold" text-anchor="middle" fill="#1a1a1a" stroke="#1a1a1a" stroke-width="0.2"><tspan font-style="italic">P</tspan> = 0.009</text>
<rect x="364.9" y="178.5" width="65.9" height="137.6" fill="#ffffff" stroke="#1f1a19" stroke-width="1.2"/>
<rect x="364.9" y="163.0" width="65.9" height="15.5" fill="#dcdcdc" stroke="#2b2b2b" stroke-width="1.15"/>
<text transform="rotate(0.04 397.5 174.95)" x="397.5" y="174.95" font-size="10.25" font-weight="bold" text-anchor="middle" fill="#1a1a1a" >ADG, g/d</text>
<line x1="362.9" y1="192.7" x2="364.9" y2="192.7" stroke="#333" stroke-width="0.7"/>
<text transform="rotate(0.04 362.29999999999995 195.22)" x="362.29999999999995" y="195.22" font-size="7" font-weight="bold" text-anchor="end" fill="#4f4f4f" stroke="#4f4f4f" stroke-width="0.12">350</text>
<line x1="362.9" y1="218.5" x2="364.9" y2="218.5" stroke="#333" stroke-width="0.7"/>
<text transform="rotate(0.04 362.29999999999995 221.02)" x="362.29999999999995" y="221.02" font-size="7" font-weight="bold" text-anchor="end" fill="#4f4f4f" stroke="#4f4f4f" stroke-width="0.12">300</text>
<line x1="362.9" y1="244.1" x2="364.9" y2="244.1" stroke="#333" stroke-width="0.7"/>
<text transform="rotate(0.04 362.29999999999995 246.62)" x="362.29999999999995" y="246.62" font-size="7" font-weight="bold" text-anchor="end" fill="#4f4f4f" stroke="#4f4f4f" stroke-width="0.12">250</text>
<line x1="362.9" y1="269.7" x2="364.9" y2="269.7" stroke="#333" stroke-width="0.7"/>
<text transform="rotate(0.04 362.29999999999995 272.21999999999997)" x="362.29999999999995" y="272.21999999999997" font-size="7" font-weight="bold" text-anchor="end" fill="#4f4f4f" stroke="#4f4f4f" stroke-width="0.12">200</text>
<line x1="362.9" y1="295.3" x2="364.9" y2="295.3" stroke="#333" stroke-width="0.7"/>
<text transform="rotate(0.04 362.29999999999995 297.82)" x="362.29999999999995" y="297.82" font-size="7" font-weight="bold" text-anchor="end" fill="#4f4f4f" stroke="#4f4f4f" stroke-width="0.12">150</text>
<line x1="382.5" y1="263.1" x2="382.5" y2="302" stroke="#3d3d3d" stroke-width="1"/>
<rect x="374.8" y="269.4" width="15.4" height="13.5" fill="#84141c" stroke="#3d3d3d" stroke-width="1.1"/>
<line x1="374.8" y1="275.4" x2="390.2" y2="275.4" stroke="#3d3d3d" stroke-width="1.2"/>
<line x1="412.4" y1="219.5" x2="412.4" y2="251.3" stroke="#3d3d3d" stroke-width="1"/>
<rect x="404.6" y="229.4" width="15.6" height="10.7" fill="#3b7ab3" stroke="#3d3d3d" stroke-width="1.1"/>
<line x1="404.6" y1="234.4" x2="420.2" y2="234.4" stroke="#3d3d3d" stroke-width="1.2"/>
<path d="M382.5 193.8 V190.0 H412.4 V193.8" fill="none" stroke="#2a2a2a" stroke-width="1.35"/>
<text transform="rotate(0.04 398.34999999999997 187.6)" x="398.34999999999997" y="187.6" font-size="7.1" font-weight="bold" text-anchor="middle" fill="#1a1a1a" stroke="#1a1a1a" stroke-width="0.2"><tspan font-style="italic">P</tspan> &lt; 0.001</text>
<rect x="447.5" y="178.5" width="66.2" height="137.6" fill="#ffffff" stroke="#1f1a19" stroke-width="1.2"/>
<rect x="447.5" y="163.0" width="66.2" height="15.5" fill="#dcdcdc" stroke="#2b2b2b" stroke-width="1.15"/>
<text transform="rotate(0.04 480.25 174.95)" x="480.25" y="174.95" font-size="10.25" font-weight="bold" text-anchor="middle" fill="#1a1a1a" >ADFI, kg/d</text>
<line x1="445.5" y1="194" x2="447.5" y2="194" stroke="#333" stroke-width="0.7"/>
<text transform="rotate(0.04 444.9 196.52)" x="444.9" y="196.52" font-size="7" font-weight="bold" text-anchor="end" fill="#4f4f4f" stroke="#4f4f4f" stroke-width="0.12">2.00</text>
<line x1="445.5" y1="225.2" x2="447.5" y2="225.2" stroke="#333" stroke-width="0.7"/>
<text transform="rotate(0.04 444.9 227.72)" x="444.9" y="227.72" font-size="7" font-weight="bold" text-anchor="end" fill="#4f4f4f" stroke="#4f4f4f" stroke-width="0.12">1.75</text>
<line x1="445.5" y1="255.8" x2="447.5" y2="255.8" stroke="#333" stroke-width="0.7"/>
<text transform="rotate(0.04 444.9 258.32)" x="444.9" y="258.32" font-size="7" font-weight="bold" text-anchor="end" fill="#4f4f4f" stroke="#4f4f4f" stroke-width="0.12">1.50</text>
<line x1="445.5" y1="287.1" x2="447.5" y2="287.1" stroke="#333" stroke-width="0.7"/>
<text transform="rotate(0.04 444.9 289.62)" x="444.9" y="289.62" font-size="7" font-weight="bold" text-anchor="end" fill="#4f4f4f" stroke="#4f4f4f" stroke-width="0.12">1.25</text>
<line x1="466.1" y1="231.2" x2="466.1" y2="302" stroke="#3d3d3d" stroke-width="1"/>
<rect x="458.4" y="239.4" width="15.4" height="29.8" fill="#84141c" stroke="#3d3d3d" stroke-width="1.1"/>
<line x1="458.4" y1="254.2" x2="473.8" y2="254.2" stroke="#3d3d3d" stroke-width="1.2"/>
<line x1="496.0" y1="232.4" x2="496.0" y2="264.3" stroke="#3d3d3d" stroke-width="1"/>
<rect x="488.2" y="240.9" width="15.6" height="10.9" fill="#3b7ab3" stroke="#3d3d3d" stroke-width="1.1"/>
<line x1="488.2" y1="244.8" x2="503.8" y2="244.8" stroke="#3d3d3d" stroke-width="1.2"/>
<path d="M466.1 193.8 V190.0 H496.0 V193.8" fill="none" stroke="#2a2a2a" stroke-width="1.35"/>
<text transform="rotate(0.04 480.75 187.6)" x="480.75" y="187.6" font-size="7.1" font-weight="bold" text-anchor="middle" fill="#1a1a1a" stroke="#1a1a1a" stroke-width="0.2"><tspan font-style="italic">P</tspan> = 0.068</text>
<rect x="530.4" y="178.5" width="65.7" height="137.6" fill="#ffffff" stroke="#1f1a19" stroke-width="1.2"/>
<rect x="530.4" y="163.0" width="65.7" height="15.5" fill="#dcdcdc" stroke="#2b2b2b" stroke-width="1.15"/>
<text transform="rotate(0.04 562.9 174.95)" x="562.9" y="174.95" font-size="10.25" font-weight="bold" text-anchor="middle" fill="#1a1a1a" >CW, kg</text>
<line x1="528.4" y1="216.5" x2="530.4" y2="216.5" stroke="#333" stroke-width="0.7"/>
<text transform="rotate(0.04 527.8 219.02)" x="527.8" y="219.02" font-size="7" font-weight="bold" text-anchor="end" fill="#4f4f4f" stroke="#4f4f4f" stroke-width="0.12">30</text>
<line x1="528.4" y1="249.1" x2="530.4" y2="249.1" stroke="#333" stroke-width="0.7"/>
<text transform="rotate(0.04 527.8 251.62)" x="527.8" y="251.62" font-size="7" font-weight="bold" text-anchor="end" fill="#4f4f4f" stroke="#4f4f4f" stroke-width="0.12">25</text>
<line x1="528.4" y1="281.6" x2="530.4" y2="281.6" stroke="#333" stroke-width="0.7"/>
<text transform="rotate(0.04 527.8 284.12)" x="527.8" y="284.12" font-size="7" font-weight="bold" text-anchor="end" fill="#4f4f4f" stroke="#4f4f4f" stroke-width="0.12">20</text>
<line x1="548.3" y1="254.2" x2="548.3" y2="308.9" stroke="#3d3d3d" stroke-width="1"/>
<rect x="540.6" y="276.4" width="15.4" height="18.1" fill="#84141c" stroke="#3d3d3d" stroke-width="1.1"/>
<line x1="540.6" y1="284.3" x2="556" y2="284.3" stroke="#3d3d3d" stroke-width="1.2"/>
<line x1="578.1" y1="241.3" x2="578.1" y2="289.6" stroke="#3d3d3d" stroke-width="1"/>
<rect x="570.3" y="258.6" width="15.7" height="21.8" fill="#3b7ab3" stroke="#3d3d3d" stroke-width="1.1"/>
<line x1="570.3" y1="270.3" x2="586" y2="270.3" stroke="#3d3d3d" stroke-width="1.2"/>
<path d="M548.3 193.8 V190.0 H578.1 V193.8" fill="none" stroke="#2a2a2a" stroke-width="1.35"/>
<text transform="rotate(0.04 562.925 187.6)" x="562.925" y="187.6" font-size="7.1" font-weight="bold" text-anchor="middle" fill="#1a1a1a" stroke="#1a1a1a" stroke-width="0.2"><tspan font-style="italic">P</tspan> = 0.016</text>
<rect x="618.4" y="178.5" width="65.8" height="137.6" fill="#ffffff" stroke="#1f1a19" stroke-width="1.2"/>
<rect x="618.4" y="163.0" width="65.8" height="15.5" fill="#dcdcdc" stroke="#2b2b2b" stroke-width="1.15"/>
<text transform="rotate(0.04 650.9499999999999 174.95)" x="650.9499999999999" y="174.95" font-size="10.25" font-weight="bold" text-anchor="middle" fill="#1a1a1a" >LW, g</text>
<line x1="616.4" y1="206.9" x2="618.4" y2="206.9" stroke="#333" stroke-width="0.7"/>
<text transform="rotate(0.04 615.8 209.42000000000002)" x="615.8" y="209.42000000000002" font-size="7" font-weight="bold" text-anchor="end" fill="#4f4f4f" stroke="#4f4f4f" stroke-width="0.12">900</text>
<line x1="616.4" y1="234.3" x2="618.4" y2="234.3" stroke="#333" stroke-width="0.7"/>
<text transform="rotate(0.04 615.8 236.82000000000002)" x="615.8" y="236.82000000000002" font-size="7" font-weight="bold" text-anchor="end" fill="#4f4f4f" stroke="#4f4f4f" stroke-width="0.12">800</text>
<line x1="616.4" y1="261.6" x2="618.4" y2="261.6" stroke="#333" stroke-width="0.7"/>
<text transform="rotate(0.04 615.8 264.12)" x="615.8" y="264.12" font-size="7" font-weight="bold" text-anchor="end" fill="#4f4f4f" stroke="#4f4f4f" stroke-width="0.12">700</text>
<line x1="616.4" y1="288.9" x2="618.4" y2="288.9" stroke="#333" stroke-width="0.7"/>
<text transform="rotate(0.04 615.8 291.41999999999996)" x="615.8" y="291.41999999999996" font-size="7" font-weight="bold" text-anchor="end" fill="#4f4f4f" stroke="#4f4f4f" stroke-width="0.12">600</text>
<line x1="636.8" y1="242.1" x2="636.8" y2="302" stroke="#3d3d3d" stroke-width="1"/>
<rect x="629.1" y="269.8" width="15.4" height="22.7" fill="#84141c" stroke="#3d3d3d" stroke-width="1.1"/>
<line x1="629.1" y1="277.1" x2="644.5" y2="277.1" stroke="#3d3d3d" stroke-width="1.2"/>
<line x1="666.2" y1="210.1" x2="666.2" y2="277.1" stroke="#3d3d3d" stroke-width="1"/>
<rect x="658.4" y="237.4" width="15.6" height="22.2" fill="#3b7ab3" stroke="#3d3d3d" stroke-width="1.1"/>
<line x1="658.4" y1="250.3" x2="674" y2="250.3" stroke="#3d3d3d" stroke-width="1.2"/>
<path d="M636.8 193.8 V190.0 H666.2 V193.8" fill="none" stroke="#2a2a2a" stroke-width="1.35"/>
<text transform="rotate(0.04 651.2 187.6)" x="651.2" y="187.6" font-size="7.1" font-weight="bold" text-anchor="middle" fill="#1a1a1a" stroke="#1a1a1a" stroke-width="0.2"><tspan font-style="italic">P</tspan> = 0.003</text>
<text transform="rotate(0.04 -0.3 335.9)" x="-0.3" y="335.9" font-size="15" font-weight="bold" text-anchor="start" fill="#231815"  stroke="#231815" stroke-width="0.22">C</text>
<text transform="translate(8.3,413.9) rotate(-90)" font-size="10.0" font-weight="bold" text-anchor="middle" fill="#231815" stroke="#231815" stroke-width="0.35">Concentration, mmol/L</text>
<text transform="translate(349.5,409.6) rotate(-90)" font-size="8.85" font-weight="bold" text-anchor="middle" fill="#231815" stroke="#231815" stroke-width="0.35">Proportion, %</text>
<text transform="translate(605.5,412.9) rotate(-90)" font-size="8.8" font-weight="bold" text-anchor="middle" fill="#231815" stroke="#231815" stroke-width="0.35">Ratio</text>
<rect x="25.6" y="346.8" width="66.2" height="137.8" fill="#ffffff" stroke="#1f1a19" stroke-width="1.2"/>
<rect x="25.6" y="331.6" width="66.2" height="15.2" fill="#dcdcdc" stroke="#2b2b2b" stroke-width="1.15"/>
<text transform="rotate(0.04 58.35 343.1)" x="58.35" y="343.1" font-size="10.25" font-weight="bold" text-anchor="middle" fill="#1a1a1a" >Total VFA</text>
<line x1="23.6" y1="348" x2="25.6" y2="348" stroke="#333" stroke-width="0.7"/>
<text transform="rotate(0.04 23.0 350.088)" x="23.0" y="350.088" font-size="5.8" font-weight="bold" text-anchor="end" fill="#4f4f4f" stroke="#4f4f4f" stroke-width="0.12">175</text>
<line x1="23.6" y1="384.5" x2="25.6" y2="384.5" stroke="#333" stroke-width="0.7"/>
<text transform="rotate(0.04 23.0 386.588)" x="23.0" y="386.588" font-size="5.8" font-weight="bold" text-anchor="end" fill="#4f4f4f" stroke="#4f4f4f" stroke-width="0.12">150</text>
<line x1="23.6" y1="421" x2="25.6" y2="421" stroke="#333" stroke-width="0.7"/>
<text transform="rotate(0.04 23.0 423.088)" x="23.0" y="423.088" font-size="5.8" font-weight="bold" text-anchor="end" fill="#4f4f4f" stroke="#4f4f4f" stroke-width="0.12">125</text>
<line x1="23.6" y1="457.6" x2="25.6" y2="457.6" stroke="#333" stroke-width="0.7"/>
<text transform="rotate(0.04 23.0 459.68800000000005)" x="23.0" y="459.68800000000005" font-size="5.8" font-weight="bold" text-anchor="end" fill="#4f4f4f" stroke="#4f4f4f" stroke-width="0.12">100</text>
<line x1="42.9" y1="361" x2="42.9" y2="481.4" stroke="#3d3d3d" stroke-width="1"/>
<rect x="34.7" y="401.4" width="16.4" height="37.3" fill="#84141c" stroke="#3d3d3d" stroke-width="1.1"/>
<line x1="34.7" y1="410.1" x2="51.1" y2="410.1" stroke="#3d3d3d" stroke-width="1.2"/>
<line x1="74.4" y1="371.2" x2="74.4" y2="430.2" stroke="#3d3d3d" stroke-width="1"/>
<rect x="66.3" y="392.2" width="16.3" height="21.1" fill="#3b7ab3" stroke="#3d3d3d" stroke-width="1.1"/>
<line x1="66.3" y1="401.4" x2="82.6" y2="401.4" stroke="#3d3d3d" stroke-width="1.2"/>
<path d="M42.9 361.8 V358.0 H74.4 V361.8" fill="none" stroke="#2a2a2a" stroke-width="1.35"/>
<text transform="rotate(0.04 58.375 355.3)" x="58.375" y="355.3" font-size="7.1" font-weight="bold" text-anchor="middle" fill="#1a1a1a" stroke="#1a1a1a" stroke-width="0.2"><tspan font-style="italic">P</tspan> = 0.303</text>
<rect x="109.9" y="346.8" width="66.3" height="137.8" fill="#ffffff" stroke="#1f1a19" stroke-width="1.2"/>
<rect x="109.9" y="331.6" width="66.3" height="15.2" fill="#dcdcdc" stroke="#2b2b2b" stroke-width="1.15"/>
<text transform="rotate(0.04 142.70000000000002 343.1)" x="142.70000000000002" y="343.1" font-size="10.25" font-weight="bold" text-anchor="middle" fill="#1a1a1a" >Acetate</text>
<line x1="107.9" y1="360.2" x2="109.9" y2="360.2" stroke="#333" stroke-width="0.7"/>
<text transform="rotate(0.04 107.30000000000001 362.71999999999997)" x="107.30000000000001" y="362.71999999999997" font-size="7" font-weight="bold" text-anchor="end" fill="#4f4f4f" stroke="#4f4f4f" stroke-width="0.12">110</text>
<line x1="107.9" y1="381.2" x2="109.9" y2="381.2" stroke="#333" stroke-width="0.7"/>
<text transform="rotate(0.04 107.30000000000001 383.71999999999997)" x="107.30000000000001" y="383.71999999999997" font-size="7" font-weight="bold" text-anchor="end" fill="#4f4f4f" stroke="#4f4f4f" stroke-width="0.12">100</text>
<line x1="107.9" y1="402" x2="109.9" y2="402" stroke="#333" stroke-width="0.7"/>
<text transform="rotate(0.04 107.30000000000001 404.52)" x="107.30000000000001" y="404.52" font-size="7" font-weight="bold" text-anchor="end" fill="#4f4f4f" stroke="#4f4f4f" stroke-width="0.12">90</text>
<line x1="107.9" y1="422.9" x2="109.9" y2="422.9" stroke="#333" stroke-width="0.7"/>
<text transform="rotate(0.04 107.30000000000001 425.41999999999996)" x="107.30000000000001" y="425.41999999999996" font-size="7" font-weight="bold" text-anchor="end" fill="#4f4f4f" stroke="#4f4f4f" stroke-width="0.12">80</text>
<line x1="107.9" y1="443.8" x2="109.9" y2="443.8" stroke="#333" stroke-width="0.7"/>
<text transform="rotate(0.04 107.30000000000001 446.32)" x="107.30000000000001" y="446.32" font-size="7" font-weight="bold" text-anchor="end" fill="#4f4f4f" stroke="#4f4f4f" stroke-width="0.12">70</text>
<line x1="107.9" y1="464.6" x2="109.9" y2="464.6" stroke="#333" stroke-width="0.7"/>
<text transform="rotate(0.04 107.30000000000001 467.12)" x="107.30000000000001" y="467.12" font-size="7" font-weight="bold" text-anchor="end" fill="#4f4f4f" stroke="#4f4f4f" stroke-width="0.12">60</text>
<line x1="127.7" y1="363.9" x2="127.7" y2="479.2" stroke="#3d3d3d" stroke-width="1"/>
<rect x="119.9" y="402.8" width="15.6" height="31.0" fill="#84141c" stroke="#3d3d3d" stroke-width="1.1"/>
<line x1="119.9" y1="418.2" x2="135.5" y2="418.2" stroke="#3d3d3d" stroke-width="1.2"/>
<line x1="157.4" y1="381" x2="157.4" y2="447.4" stroke="#3d3d3d" stroke-width="1"/>
<rect x="149.6" y="390.3" width="15.7" height="31.7" fill="#3b7ab3" stroke="#3d3d3d" stroke-width="1.1"/>
<line x1="149.6" y1="402.9" x2="165.3" y2="402.9" stroke="#3d3d3d" stroke-width="1.2"/>
<path d="M127.7 361.8 V358.0 H157.4 V361.8" fill="none" stroke="#2a2a2a" stroke-width="1.35"/>
<text transform="rotate(0.04 142.27499999999998 355.3)" x="142.27499999999998" y="355.3" font-size="7.1" font-weight="bold" text-anchor="middle" fill="#1a1a1a" stroke="#1a1a1a" stroke-width="0.2"><tspan font-style="italic">P</tspan> = 0.332</text>
<rect x="190.6" y="346.8" width="65.8" height="137.8" fill="#ffffff" stroke="#1f1a19" stroke-width="1.2"/>
<rect x="190.6" y="331.6" width="65.8" height="15.2" fill="#dcdcdc" stroke="#2b2b2b" stroke-width="1.15"/>
<text transform="rotate(0.04 223.15 342.5)" x="223.15" y="342.5" font-size="10.25" font-weight="bold" text-anchor="middle" fill="#1a1a1a" >Propionate</text>
<line x1="188.6" y1="360.9" x2="190.6" y2="360.9" stroke="#333" stroke-width="0.7"/>
<text transform="rotate(0.04 188.0 363.41999999999996)" x="188.0" y="363.41999999999996" font-size="7" font-weight="bold" text-anchor="end" fill="#4f4f4f" stroke="#4f4f4f" stroke-width="0.12">35</text>
<line x1="188.6" y1="392.8" x2="190.6" y2="392.8" stroke="#333" stroke-width="0.7"/>
<text transform="rotate(0.04 188.0 395.32)" x="188.0" y="395.32" font-size="7" font-weight="bold" text-anchor="end" fill="#4f4f4f" stroke="#4f4f4f" stroke-width="0.12">30</text>
<line x1="188.6" y1="424.6" x2="190.6" y2="424.6" stroke="#333" stroke-width="0.7"/>
<text transform="rotate(0.04 188.0 427.12)" x="188.0" y="427.12" font-size="7" font-weight="bold" text-anchor="end" fill="#4f4f4f" stroke="#4f4f4f" stroke-width="0.12">25</text>
<line x1="188.6" y1="456.4" x2="190.6" y2="456.4" stroke="#333" stroke-width="0.7"/>
<text transform="rotate(0.04 188.0 458.91999999999996)" x="188.0" y="458.91999999999996" font-size="7" font-weight="bold" text-anchor="end" fill="#4f4f4f" stroke="#4f4f4f" stroke-width="0.12">20</text>
<line x1="208.6" y1="384.8" x2="208.6" y2="479.4" stroke="#3d3d3d" stroke-width="1"/>
<rect x="200.8" y="407.3" width="15.6" height="33.9" fill="#84141c" stroke="#3d3d3d" stroke-width="1.1"/>
<line x1="200.8" y1="427.7" x2="216.4" y2="427.7" stroke="#3d3d3d" stroke-width="1.2"/>
<line x1="238.4" y1="363.9" x2="238.4" y2="450.4" stroke="#3d3d3d" stroke-width="1"/>
<rect x="230.6" y="375.1" width="15.6" height="35.2" fill="#3b7ab3" stroke="#3d3d3d" stroke-width="1.1"/>
<line x1="230.6" y1="384.4" x2="246.2" y2="384.4" stroke="#3d3d3d" stroke-width="1.2"/>
<path d="M208.6 361.8 V358.0 H238.4 V361.8" fill="none" stroke="#2a2a2a" stroke-width="1.35"/>
<text transform="rotate(0.04 223.2 355.3)" x="223.2" y="355.3" font-size="7.1" font-weight="bold" text-anchor="middle" fill="#1a1a1a" stroke="#1a1a1a" stroke-width="0.2"><tspan font-style="italic">P</tspan> = 0.028</text>
<rect x="272.3" y="346.8" width="66.0" height="137.8" fill="#ffffff" stroke="#1f1a19" stroke-width="1.2"/>
<rect x="272.3" y="331.6" width="66.0" height="15.2" fill="#dcdcdc" stroke="#2b2b2b" stroke-width="1.15"/>
<text transform="rotate(0.04 304.95 342.5)" x="304.95" y="342.5" font-size="10.25" font-weight="bold" text-anchor="middle" fill="#1a1a1a" >Butyrate</text>
<line x1="270.3" y1="386.4" x2="272.3" y2="386.4" stroke="#333" stroke-width="0.7"/>
<text transform="rotate(0.04 269.7 388.91999999999996)" x="269.7" y="388.91999999999996" font-size="7" font-weight="bold" text-anchor="end" fill="#4f4f4f" stroke="#4f4f4f" stroke-width="0.12">20</text>
<line x1="270.3" y1="423.2" x2="272.3" y2="423.2" stroke="#333" stroke-width="0.7"/>
<text transform="rotate(0.04 269.7 425.71999999999997)" x="269.7" y="425.71999999999997" font-size="7" font-weight="bold" text-anchor="end" fill="#4f4f4f" stroke="#4f4f4f" stroke-width="0.12">15</text>
<line x1="270.3" y1="460.2" x2="272.3" y2="460.2" stroke="#333" stroke-width="0.7"/>
<text transform="rotate(0.04 269.7 462.71999999999997)" x="269.7" y="462.71999999999997" font-size="7" font-weight="bold" text-anchor="end" fill="#4f4f4f" stroke="#4f4f4f" stroke-width="0.12">10</text>
<line x1="290.5" y1="363.9" x2="290.5" y2="478.9" stroke="#3d3d3d" stroke-width="1"/>
<rect x="282.7" y="401.4" width="15.6" height="51.7" fill="#84141c" stroke="#3d3d3d" stroke-width="1.1"/>
<line x1="282.7" y1="412.2" x2="298.3" y2="412.2" stroke="#3d3d3d" stroke-width="1.2"/>
<line x1="320.1" y1="395.1" x2="320.1" y2="466.5" stroke="#3d3d3d" stroke-width="1"/>
<rect x="312.2" y="419.3" width="15.9" height="19.9" fill="#3b7ab3" stroke="#3d3d3d" stroke-width="1.1"/>
<line x1="312.2" y1="430.8" x2="328.1" y2="430.8" stroke="#3d3d3d" stroke-width="1.2"/>
<path d="M290.5 361.8 V358.0 H320.1 V361.8" fill="none" stroke="#2a2a2a" stroke-width="1.35"/>
<text transform="rotate(0.04 305.025 355.3)" x="305.025" y="355.3" font-size="7.1" font-weight="bold" text-anchor="middle" fill="#1a1a1a" stroke="#1a1a1a" stroke-width="0.2"><tspan font-style="italic">P</tspan> = 0.507</text>
<rect x="364.3" y="346.8" width="66.0" height="137.8" fill="#ffffff" stroke="#1f1a19" stroke-width="1.2"/>
<rect x="364.3" y="331.6" width="66.0" height="15.2" fill="#dcdcdc" stroke="#2b2b2b" stroke-width="1.15"/>
<text transform="rotate(0.04 396.95 343.1)" x="396.95" y="343.1" font-size="10.25" font-weight="bold" text-anchor="middle" fill="#1a1a1a" >Acetate</text>
<line x1="362.3" y1="355.5" x2="364.3" y2="355.5" stroke="#333" stroke-width="0.7"/>
<text transform="rotate(0.04 361.7 358.02)" x="361.7" y="358.02" font-size="7" font-weight="bold" text-anchor="end" fill="#4f4f4f" stroke="#4f4f4f" stroke-width="0.12">70</text>
<line x1="362.3" y1="385.3" x2="364.3" y2="385.3" stroke="#333" stroke-width="0.7"/>
<text transform="rotate(0.04 361.7 387.82)" x="361.7" y="387.82" font-size="7" font-weight="bold" text-anchor="end" fill="#4f4f4f" stroke="#4f4f4f" stroke-width="0.12">68</text>
<line x1="362.3" y1="415.3" x2="364.3" y2="415.3" stroke="#333" stroke-width="0.7"/>
<text transform="rotate(0.04 361.7 417.82)" x="361.7" y="417.82" font-size="7" font-weight="bold" text-anchor="end" fill="#4f4f4f" stroke="#4f4f4f" stroke-width="0.12">66</text>
<line x1="362.3" y1="445.3" x2="364.3" y2="445.3" stroke="#333" stroke-width="0.7"/>
<text transform="rotate(0.04 361.7 447.82)" x="361.7" y="447.82" font-size="7" font-weight="bold" text-anchor="end" fill="#4f4f4f" stroke="#4f4f4f" stroke-width="0.12">64</text>
<line x1="362.3" y1="475.3" x2="364.3" y2="475.3" stroke="#333" stroke-width="0.7"/>
<text transform="rotate(0.04 361.7 477.82)" x="361.7" y="477.82" font-size="7" font-weight="bold" text-anchor="end" fill="#4f4f4f" stroke="#4f4f4f" stroke-width="0.12">62</text>
<line x1="382.5" y1="363.4" x2="382.5" y2="471.5" stroke="#3d3d3d" stroke-width="1"/>
<rect x="374.7" y="394" width="15.7" height="58.4" fill="#84141c" stroke="#3d3d3d" stroke-width="1.1"/>
<line x1="374.7" y1="433" x2="390.4" y2="433" stroke="#3d3d3d" stroke-width="1.2"/>
<line x1="412.4" y1="389.3" x2="412.4" y2="478.9" stroke="#3d3d3d" stroke-width="1"/>
<rect x="404.8" y="421.2" width="15.1" height="39.8" fill="#3b7ab3" stroke="#3d3d3d" stroke-width="1.1"/>
<line x1="404.8" y1="436.3" x2="419.9" y2="436.3" stroke="#3d3d3d" stroke-width="1.2"/>
<path d="M382.5 361.8 V358.0 H412.4 V361.8" fill="none" stroke="#2a2a2a" stroke-width="1.35"/>
<text transform="rotate(0.04 397.15 355.3)" x="397.15" y="355.3" font-size="7.1" font-weight="bold" text-anchor="middle" fill="#1a1a1a" stroke="#1a1a1a" stroke-width="0.2"><tspan font-style="italic">P</tspan> = 0.759</text>
<rect x="447.7" y="346.8" width="66.0" height="137.8" fill="#ffffff" stroke="#1f1a19" stroke-width="1.2"/>
<rect x="447.7" y="331.6" width="66.0" height="15.2" fill="#dcdcdc" stroke="#2b2b2b" stroke-width="1.15"/>
<text transform="rotate(0.04 480.35 342.5)" x="480.35" y="342.5" font-size="10.25" font-weight="bold" text-anchor="middle" fill="#1a1a1a" >Propionate</text>
<line x1="445.7" y1="352" x2="447.7" y2="352" stroke="#333" stroke-width="0.7"/>
<text transform="rotate(0.04 445.09999999999997 354.52)" x="445.09999999999997" y="354.52" font-size="7" font-weight="bold" text-anchor="end" fill="#4f4f4f" stroke="#4f4f4f" stroke-width="0.12">26</text>
<line x1="445.7" y1="379.7" x2="447.7" y2="379.7" stroke="#333" stroke-width="0.7"/>
<text transform="rotate(0.04 445.09999999999997 382.21999999999997)" x="445.09999999999997" y="382.21999999999997" font-size="7" font-weight="bold" text-anchor="end" fill="#4f4f4f" stroke="#4f4f4f" stroke-width="0.12">24</text>
<line x1="445.7" y1="407.2" x2="447.7" y2="407.2" stroke="#333" stroke-width="0.7"/>
<text transform="rotate(0.04 445.09999999999997 409.71999999999997)" x="445.09999999999997" y="409.71999999999997" font-size="7" font-weight="bold" text-anchor="end" fill="#4f4f4f" stroke="#4f4f4f" stroke-width="0.12">22</text>
<line x1="445.7" y1="434.9" x2="447.7" y2="434.9" stroke="#333" stroke-width="0.7"/>
<text transform="rotate(0.04 445.09999999999997 437.41999999999996)" x="445.09999999999997" y="437.41999999999996" font-size="7" font-weight="bold" text-anchor="end" fill="#4f4f4f" stroke="#4f4f4f" stroke-width="0.12">20</text>
<line x1="445.7" y1="462.4" x2="447.7" y2="462.4" stroke="#333" stroke-width="0.7"/>
<text transform="rotate(0.04 445.09999999999997 464.91999999999996)" x="445.09999999999997" y="464.91999999999996" font-size="7" font-weight="bold" text-anchor="end" fill="#4f4f4f" stroke="#4f4f4f" stroke-width="0.12">18</text>
<line x1="466.0" y1="411.3" x2="466.0" y2="478.9" stroke="#3d3d3d" stroke-width="1"/>
<rect x="458.4" y="433.3" width="15.3" height="24.0" fill="#84141c" stroke="#3d3d3d" stroke-width="1.1"/>
<line x1="458.4" y1="445.4" x2="473.7" y2="445.4" stroke="#3d3d3d" stroke-width="1.2"/>
<line x1="496.0" y1="363.4" x2="496.0" y2="444.2" stroke="#3d3d3d" stroke-width="1"/>
<rect x="488.1" y="398.6" width="15.7" height="34.1" fill="#3b7ab3" stroke="#3d3d3d" stroke-width="1.1"/>
<line x1="488.1" y1="422.4" x2="503.8" y2="422.4" stroke="#3d3d3d" stroke-width="1.2"/>
<path d="M466.0 361.8 V358.0 H496.0 V361.8" fill="none" stroke="#2a2a2a" stroke-width="1.35"/>
<text transform="rotate(0.04 480.7 355.3)" x="480.7" y="355.3" font-size="7.1" font-weight="bold" text-anchor="middle" fill="#1a1a1a" stroke="#1a1a1a" stroke-width="0.2"><tspan font-style="italic">P</tspan> = 0.068</text>
<rect x="530.4" y="346.8" width="65.7" height="137.8" fill="#ffffff" stroke="#1f1a19" stroke-width="1.2"/>
<rect x="530.4" y="331.6" width="65.7" height="15.2" fill="#dcdcdc" stroke="#2b2b2b" stroke-width="1.15"/>
<text transform="rotate(0.04 562.9 342.5)" x="562.9" y="342.5" font-size="10.25" font-weight="bold" text-anchor="middle" fill="#1a1a1a" >Butyrate</text>
<line x1="528.4" y1="384.7" x2="530.4" y2="384.7" stroke="#333" stroke-width="0.7"/>
<text transform="rotate(0.04 527.8 387.21999999999997)" x="527.8" y="387.21999999999997" font-size="7" font-weight="bold" text-anchor="end" fill="#4f4f4f" stroke="#4f4f4f" stroke-width="0.12">15</text>
<line x1="528.4" y1="420.4" x2="530.4" y2="420.4" stroke="#333" stroke-width="0.7"/>
<text transform="rotate(0.04 527.8 422.91999999999996)" x="527.8" y="422.91999999999996" font-size="7" font-weight="bold" text-anchor="end" fill="#4f4f4f" stroke="#4f4f4f" stroke-width="0.12">12</text>
<line x1="528.4" y1="456.1" x2="530.4" y2="456.1" stroke="#333" stroke-width="0.7"/>
<text transform="rotate(0.04 527.8 458.62)" x="527.8" y="458.62" font-size="7" font-weight="bold" text-anchor="end" fill="#4f4f4f" stroke="#4f4f4f" stroke-width="0.12">10</text>
<line x1="548.3" y1="363.4" x2="548.3" y2="478.9" stroke="#3d3d3d" stroke-width="1"/>
<rect x="540.6" y="405.8" width="15.4" height="52.8" fill="#84141c" stroke="#3d3d3d" stroke-width="1.1"/>
<line x1="540.6" y1="426.4" x2="556" y2="426.4" stroke="#3d3d3d" stroke-width="1.2"/>
<line x1="578.1" y1="414.3" x2="578.1" y2="472.2" stroke="#3d3d3d" stroke-width="1"/>
<rect x="570.3" y="428.7" width="15.7" height="34.3" fill="#3b7ab3" stroke="#3d3d3d" stroke-width="1.1"/>
<line x1="570.3" y1="450.4" x2="586" y2="450.4" stroke="#3d3d3d" stroke-width="1.2"/>
<path d="M548.3 361.8 V358.0 H578.1 V361.8" fill="none" stroke="#2a2a2a" stroke-width="1.35"/>
<text transform="rotate(0.04 562.925 355.3)" x="562.925" y="355.3" font-size="7.1" font-weight="bold" text-anchor="middle" fill="#1a1a1a" stroke="#1a1a1a" stroke-width="0.2"><tspan font-style="italic">P</tspan> = 0.104</text>
<rect x="618.4" y="346.8" width="65.8" height="137.8" fill="#ffffff" stroke="#1f1a19" stroke-width="1.2"/>
<rect x="618.4" y="331.6" width="65.8" height="15.2" fill="#dcdcdc" stroke="#2b2b2b" stroke-width="1.15"/>
<text transform="rotate(0.04 650.9499999999999 343.1)" x="650.9499999999999" y="343.1" font-size="10.25" font-weight="bold" text-anchor="middle" fill="#1a1a1a" >A:P</text>
<line x1="616.4" y1="359" x2="618.4" y2="359" stroke="#333" stroke-width="0.7"/>
<text transform="rotate(0.04 615.8 361.52)" x="615.8" y="361.52" font-size="7" font-weight="bold" text-anchor="end" fill="#4f4f4f" stroke="#4f4f4f" stroke-width="0.12">4.0</text>
<line x1="616.4" y1="398.7" x2="618.4" y2="398.7" stroke="#333" stroke-width="0.7"/>
<text transform="rotate(0.04 615.8 401.21999999999997)" x="615.8" y="401.21999999999997" font-size="7" font-weight="bold" text-anchor="end" fill="#4f4f4f" stroke="#4f4f4f" stroke-width="0.12">3.5</text>
<line x1="616.4" y1="438.5" x2="618.4" y2="438.5" stroke="#333" stroke-width="0.7"/>
<text transform="rotate(0.04 615.8 441.02)" x="615.8" y="441.02" font-size="7" font-weight="bold" text-anchor="end" fill="#4f4f4f" stroke="#4f4f4f" stroke-width="0.12">3.0</text>
<line x1="616.4" y1="478.6" x2="618.4" y2="478.6" stroke="#333" stroke-width="0.7"/>
<text transform="rotate(0.04 615.8 481.12)" x="615.8" y="481.12" font-size="7" font-weight="bold" text-anchor="end" fill="#4f4f4f" stroke="#4f4f4f" stroke-width="0.12">2.5</text>
<line x1="636.8" y1="363.4" x2="636.8" y2="446.6" stroke="#3d3d3d" stroke-width="1"/>
<rect x="629.1" y="394.2" width="15.4" height="25.2" fill="#84141c" stroke="#3d3d3d" stroke-width="1.1"/>
<line x1="629.1" y1="407.5" x2="644.5" y2="407.5" stroke="#3d3d3d" stroke-width="1.2"/>
<line x1="666.4" y1="370.3" x2="666.4" y2="478.9" stroke="#3d3d3d" stroke-width="1"/>
<rect x="658.7" y="418.5" width="15.3" height="38.8" fill="#3b7ab3" stroke="#3d3d3d" stroke-width="1.1"/>
<line x1="658.7" y1="437.2" x2="674" y2="437.2" stroke="#3d3d3d" stroke-width="1.2"/>
<path d="M636.8 361.8 V358.0 H666.4 V361.8" fill="none" stroke="#2a2a2a" stroke-width="1.35"/>
<text transform="rotate(0.04 651.2750000000001 355.3)" x="651.2750000000001" y="355.3" font-size="7.1" font-weight="bold" text-anchor="middle" fill="#1a1a1a" stroke="#1a1a1a" stroke-width="0.2"><tspan font-style="italic">P</tspan> = 0.128</text>
</svg>
</body></html>
